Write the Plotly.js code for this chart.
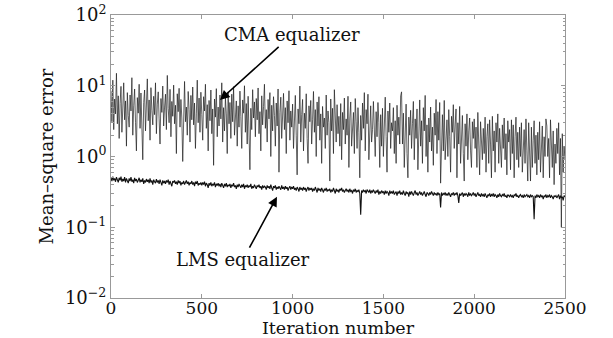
<!DOCTYPE html>
<html>
<head>
<meta charset="utf-8">
<script src="https://cdn.plot.ly/plotly-3.0.1.min.js"></script>
<style>html,body{margin:0;padding:0;background:#fff;}#chart{width:613px;height:338px;}</style>
</head>
<body>
<div id="chart"></div>
<script>
// Iterations sampled every 5 steps (0..2500)
const iterStep = 5;
const cmaMSE = [
  8.5, 3.1, 12, 2.4, 6.5, 4.0, 15, 2.9, 7.2, 1.8,
  5.6, 9.8, 2.2, 4.7, 11, 3.3, 6.1, 1.4, 8.0, 3.8,
  2.6, 7.4, 4.4, 13, 2.0, 5.2, 9.0, 3.0, 1.2, 6.8,
  4.1, 10.5, 2.5, 7.9, 3.6, 0.9, 5.8, 8.7, 2.3, 4.9,
  12.5, 3.2, 6.3, 1.7, 9.4, 4.5, 2.8, 7.1, 3.9, 11,
  2.1, 5.5, 8.2, 3.4, 1.5, 6.6, 4.2, 9.9, 2.7, 5.0,
  7.6, 2.4, 14, 4.8, 3.0, 8.9, 1.9, 6.0, 3.7, 10.2,
  2.9, 5.3, 1.1, 7.7, 4.3, 9.2, 2.6, 6.4, 3.5, 0.85,
  6.9, 11.5, 3.1, 5.0, 2.0, 8.3, 4.6, 1.6, 7.3, 3.3,
  9.6, 2.8, 5.7, 1.3, 4.0, 12, 3.0, 6.7, 2.2, 8.1,
  3.9, 1.7, 7.0, 4.4, 10.5, 2.5, 5.4, 1.2, 6.2, 3.2,
  8.7, 2.1, 4.7, 0.75, 6.5, 3.6, 9.1, 1.9, 5.0, 2.7,
  7.4, 3.4, 11, 1.6, 4.9, 2.3, 6.8, 4.0, 1.1, 8.2,
  2.9, 5.8, 1.8, 7.6, 3.1, 9.7, 2.0, 4.5, 6.1, 1.4,
  5.2, 2.6, 8.4, 3.7, 1.3, 6.3, 4.1, 10, 2.2, 5.6,
  1.5, 7.1, 3.0, 0.65, 4.8, 2.4, 8.8, 3.5, 5.9, 1.9,
  6.6, 3.3, 9.3, 2.1, 4.3, 1.2, 7.2, 2.8, 5.1, 10.5,
  2.5, 4.6, 1.6, 6.4, 3.4, 8.0, 1.0, 5.3, 2.3, 7.0,
  3.8, 1.4, 5.7, 2.7, 9.0, 0.6, 4.2, 6.9, 1.8, 3.2,
  7.8, 2.4, 4.9, 1.1, 6.1, 3.0, 8.5, 1.7, 4.4, 2.6,
  5.5, 1.3, 3.6, 7.3, 2.0, 0.55, 4.7, 2.9, 9.9, 1.6,
  3.9, 6.4, 1.2, 4.1, 2.5, 7.7, 1.8, 0.8, 5.2, 3.1,
  6.2, 1.5, 3.3, 8.3, 2.2, 4.6, 1.0, 5.9, 2.7, 7.0,
  1.7, 4.0, 0.8, 5.1, 2.6, 3.5, 1.3, 7.4, 2.0, 4.4,
  3.0, 0.45, 6.5, 2.3, 4.8, 1.1, 8.8, 2.8, 1.6, 5.4,
  2.1, 3.7, 1.4, 5.6, 0.9, 4.2, 2.4, 6.7, 1.5, 3.4,
  2.0, 7.1, 0.7, 3.5, 5.9, 1.4, 2.6, 4.2, 1.1, 6.6,
  3.1, 1.3, 4.9, 2.2, 0.5, 3.8, 1.7, 5.7, 2.5, 8.0,
  1.2, 4.6, 2.9, 7.6, 0.9, 3.3, 5.2, 1.6, 2.4, 6.0,
  2.7, 1.0, 4.3, 1.9, 5.8, 3.0, 0.7, 3.9, 1.4, 4.8,
  1.0, 3.7, 6.9, 1.9, 0.6, 4.4, 2.2, 5.7, 1.3, 3.0,
  2.3, 4.9, 1.1, 3.2, 0.8, 5.3, 2.0, 3.6, 1.5, 7.2,
  8.2, 1.5, 4.1, 0.7, 2.7, 5.5, 1.1, 0.5, 3.6, 2.0,
  4.5, 1.3, 2.9, 6.0, 0.9, 3.4, 1.8, 4.7, 0.65, 2.5,
  6.3, 1.4, 3.2, 0.8, 4.9, 2.3, 7.3, 1.0, 2.8, 0.6,
  3.5, 1.6, 5.0, 1.2, 2.6, 0.75, 4.1, 2.0, 6.4, 1.1,
  4.3, 1.7, 5.8, 0.42, 2.6, 3.9, 1.2, 6.2, 0.9, 2.1,
  3.3, 1.0, 4.6, 1.9, 0.6, 3.7, 2.2, 5.4, 1.3, 2.8,
  4.7, 0.5, 3.0, 1.5, 5.1, 0.8, 2.4, 3.8, 1.1, 0.45,
  2.9, 1.4, 4.0, 0.9, 2.3, 3.5, 1.2, 0.7, 3.1, 1.8,
  3.4, 1.3, 2.6, 0.7, 4.2, 1.8, 0.55, 3.1, 2.0, 0.9,
  2.5, 1.1, 3.6, 0.6, 1.9, 2.9, 0.8, 3.3, 1.5, 0.5,
  3.7, 1.2, 2.3, 0.6, 3.0, 1.6, 4.0, 0.8, 2.5, 1.4,
  0.7, 2.8, 1.3, 3.5, 0.9, 2.1, 0.55, 3.2, 1.6, 2.4,
  0.65, 3.3, 1.1, 2.8, 0.5, 1.9, 3.6, 0.9, 2.2, 0.7,
  2.6, 1.0, 3.0, 0.6, 1.7, 2.4, 0.8, 3.4, 1.2, 0.45,
  3.0, 1.3, 0.45, 2.6, 0.7, 1.7, 3.2, 0.8, 2.0, 0.55,
  2.2, 0.9, 3.1, 0.6, 1.6, 2.7, 0.5, 1.9, 1.0, 3.4,
  2.7, 1.0, 1.8, 0.5, 3.3, 1.2, 0.7, 2.3, 0.4, 1.5,
  0.8, 2.5, 1.1, 3.0, 0.55, 1.8, 0.1, 2.1, 0.6, 1.4,
  0.9
];
const lmsMSE = [
  0.50, 0.45, 0.52, 0.46, 0.49, 0.44, 0.51, 0.47, 0.43, 0.50,
  0.46, 0.52, 0.44, 0.48, 0.45, 0.51, 0.43, 0.49, 0.46, 0.42,
  0.49, 0.45, 0.51, 0.44, 0.47, 0.42, 0.50, 0.45, 0.48, 0.43,
  0.46, 0.50, 0.43, 0.47, 0.44, 0.49, 0.41, 0.46, 0.43, 0.48,
  0.44, 0.47, 0.42, 0.49, 0.43, 0.46, 0.40, 0.47, 0.44, 0.42,
  0.48, 0.43, 0.46, 0.41, 0.47, 0.44, 0.39, 0.46, 0.42, 0.45,
  0.41, 0.46, 0.43, 0.47, 0.40, 0.45, 0.42, 0.38, 0.45, 0.43,
  0.46, 0.41, 0.44, 0.40, 0.46, 0.42, 0.45, 0.39, 0.43, 0.41,
  0.45, 0.40, 0.43, 0.46, 0.41, 0.44, 0.39, 0.43, 0.41, 0.45,
  0.40, 0.43, 0.38, 0.44, 0.41, 0.45, 0.39, 0.42, 0.40, 0.43,
  0.39, 0.43, 0.40, 0.44, 0.38, 0.42, 0.40, 0.36, 0.42, 0.39,
  0.43, 0.38, 0.41, 0.39, 0.43, 0.37, 0.41, 0.39, 0.42, 0.38,
  0.41, 0.37, 0.42, 0.39, 0.36, 0.41, 0.38, 0.42, 0.37, 0.40,
  0.38, 0.41, 0.36, 0.40, 0.38, 0.42, 0.37, 0.39, 0.35, 0.40,
  0.37, 0.41, 0.38, 0.36, 0.40, 0.37, 0.41, 0.35, 0.39, 0.37,
  0.40, 0.36, 0.39, 0.37, 0.41, 0.35, 0.38, 0.36, 0.40, 0.37,
  0.35, 0.39, 0.37, 0.40, 0.36, 0.38, 0.34, 0.39, 0.36, 0.38,
  0.37, 0.34, 0.39, 0.36, 0.38, 0.35, 0.40, 0.36, 0.33, 0.38,
  0.36, 0.39, 0.34, 0.37, 0.35, 0.38, 0.36, 0.34, 0.39, 0.35,
  0.37, 0.34, 0.38, 0.35, 0.37, 0.33, 0.36, 0.38, 0.34, 0.37,
  0.35, 0.38, 0.34, 0.36, 0.33, 0.37, 0.35, 0.32, 0.37, 0.34,
  0.36, 0.33, 0.37, 0.34, 0.36, 0.32, 0.35, 0.37, 0.33, 0.36,
  0.34, 0.36, 0.32, 0.35, 0.33, 0.37, 0.34, 0.31, 0.36, 0.33,
  0.35, 0.32, 0.36, 0.34, 0.31, 0.35, 0.33, 0.36, 0.32, 0.34,
  0.33, 0.35, 0.31, 0.34, 0.32, 0.36, 0.33, 0.30, 0.35, 0.32,
  0.34, 0.31, 0.35, 0.33, 0.36, 0.32, 0.34, 0.31, 0.33, 0.35,
  0.32, 0.34, 0.31, 0.35, 0.32, 0.33, 0.30, 0.34, 0.32, 0.35,
  0.31, 0.33, 0.32, 0.34, 0.30, 0.15, 0.33, 0.31, 0.34, 0.32,
  0.33, 0.30, 0.34, 0.32, 0.31, 0.34, 0.30, 0.33, 0.31, 0.34,
  0.32, 0.30, 0.33, 0.31, 0.34, 0.29, 0.32, 0.30, 0.33, 0.31,
  0.32, 0.29, 0.33, 0.30, 0.32, 0.31, 0.28, 0.33, 0.30, 0.32,
  0.30, 0.33, 0.29, 0.31, 0.32, 0.28, 0.32, 0.30, 0.33, 0.29,
  0.31, 0.29, 0.33, 0.30, 0.28, 0.32, 0.30, 0.31, 0.27, 0.32,
  0.29, 0.32, 0.30, 0.28, 0.31, 0.33, 0.29, 0.31, 0.28, 0.30,
  0.32, 0.29, 0.31, 0.28, 0.30, 0.32, 0.29, 0.27, 0.31, 0.30,
  0.28, 0.31, 0.29, 0.32, 0.30, 0.28, 0.31, 0.29, 0.30, 0.28,
  0.31, 0.29, 0.30, 0.19, 0.31, 0.28, 0.30, 0.29, 0.31, 0.28,
  0.30, 0.28, 0.31, 0.29, 0.27, 0.30, 0.29, 0.31, 0.28, 0.30,
  0.29, 0.31, 0.28, 0.22, 0.30, 0.28, 0.29, 0.31, 0.27, 0.30,
  0.28, 0.30, 0.29, 0.27, 0.31, 0.28, 0.30, 0.28, 0.29, 0.31,
  0.28, 0.30, 0.27, 0.29, 0.31, 0.28, 0.29, 0.27, 0.30, 0.28,
  0.29, 0.27, 0.30, 0.28, 0.26, 0.29, 0.28, 0.30, 0.27, 0.29,
  0.28, 0.30, 0.27, 0.29, 0.28, 0.26, 0.29, 0.27, 0.30, 0.28,
  0.27, 0.29, 0.28, 0.30, 0.27, 0.28, 0.26, 0.29, 0.28, 0.27,
  0.29, 0.27, 0.28, 0.26, 0.29, 0.28, 0.30, 0.27, 0.28, 0.26,
  0.28, 0.29, 0.27, 0.28, 0.26, 0.29, 0.27, 0.28, 0.29, 0.27,
  0.28, 0.26, 0.29, 0.27, 0.28, 0.27, 0.13, 0.28, 0.26, 0.29,
  0.27, 0.28, 0.26, 0.29, 0.27, 0.28, 0.25, 0.28, 0.27, 0.29,
  0.26, 0.28, 0.27, 0.29, 0.26, 0.28, 0.27, 0.25, 0.28, 0.27,
  0.28, 0.26, 0.27, 0.29, 0.25, 0.28, 0.26, 0.27, 0.24, 0.28,
  0.27
];
const xTickVals = [0, 500, 1000, 1500, 2000, 2500];
const yTickVals = [0.01, 0.1, 1, 10, 100];
const yTickText = ['10<sup>\u22122</sup>', '10<sup>\u22121</sup>', '10<sup>0</sup>', '10<sup>1</sup>', '10<sup>2</sup>'];
const labels = ['CMA equalizer', 'LMS equalizer'];
const xTitle = 'Iteration number';
const yTitle = 'Mean\u2013square error';

const iters = cmaMSE.map((_, i) => i * iterStep);
const FONT = 'DejaVu Serif, serif';
const FS = 18;

// minor tick positions 2..9 x 10^k
const yMinor = [];
for (let k = -2; k < 2; k++) for (let m = 2; m <= 9; m++) yMinor.push(m * Math.pow(10, k));

const traces = [
  {x: iters, y: cmaMSE, type: 'scatter', mode: 'lines', line: {color: '#1e1e1e', width: 0.7}, hoverinfo: 'skip'},
  {x: iters, y: lmsMSE, type: 'scatter', mode: 'lines', line: {color: '#111', width: 1.1}, hoverinfo: 'skip'}
];

const axisCommon = {
  showline: true, linecolor: '#999', linewidth: 1, mirror: 'ticks',
  ticks: 'inside', ticklen: 4, tickcolor: '#999', tickwidth: 1,
  showgrid: false, zeroline: false,
  tickfont: {family: FONT, size: FS, color: '#111'}
};

const layout = {
  width: 613, height: 338,
  margin: {l: 111, r: 48, t: 15, b: 40},
  paper_bgcolor: '#fff', plot_bgcolor: '#fff',
  showlegend: false,
  font: {family: FONT, color: '#111'},
  xaxis: Object.assign({}, axisCommon, {
    range: [0, 2500], tickvals: xTickVals, ticktext: xTickVals.map(String),
    ticklabelstandoff: -5,
    tickfont: {family: FONT, size: 17, color: '#111'},
    title: {text: xTitle, font: {family: FONT, size: 17.5, color: '#111'}, standoff: 3}
  }),
  yaxis: Object.assign({}, axisCommon, {
    type: 'log', range: [-2, 2], tickvals: yTickVals, ticktext: yTickText,
    minor: {tickvals: yMinor, ticks: 'inside', ticklen: 2.5, tickcolor: '#999', showgrid: false},
    title: {text: yTitle, font: {family: FONT, size: FS, color: '#111'}, standoff: 6}
  }),
  annotations: [
    {x: 600, y: Math.log10(6.3), xref: 'x', yref: 'y', text: labels[0], showarrow: true,
     arrowhead: 2, arrowsize: 1.2, arrowwidth: 1.6, arrowcolor: '#000', ax: 72, ay: -65,
     font: {family: FONT, size: FS, color: '#111'}},
    {x: 914, y: Math.log10(0.27), xref: 'x', yref: 'y', text: labels[1], showarrow: true,
     arrowhead: 2, arrowsize: 1.2, arrowwidth: 1.6, arrowcolor: '#000', ax: -34, ay: 63,
     font: {family: FONT, size: FS, color: '#111'}}
  ]
};

Plotly.newPlot('chart', traces, layout, {staticPlot: true, displayModeBar: false});
</script>
</body>
</html>
